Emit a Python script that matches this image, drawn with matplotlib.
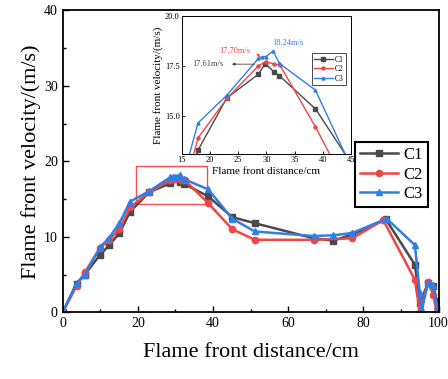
import matplotlib
matplotlib.use("Agg")
import matplotlib.pyplot as plt
from matplotlib.patches import Rectangle
from matplotlib.ticker import MultipleLocator

plt.rcParams['font.family'] = ['Liberation Serif', 'DejaVu Serif']
plt.rcParams['mathtext.fontset'] = 'stix'

# ---- data ----
c1_x = [0, 3.7, 5.9, 9.9, 12.4, 15.1, 17.9, 23.0, 28.6, 29.8, 31.3, 32.3, 38.7,
        45.1, 51.1, 66.8, 72.0, 77.0, 86.0, 93.7, 95.0, 97.2, 98.6, 99.5]
c1_y = [0, 3.8, 5.0, 7.6, 8.9, 10.5, 13.3, 15.9, 17.08, 17.61, 17.2, 17.0, 15.35,
        12.6, 11.8, 9.8, 9.5, 10.3, 12.3, 6.3, 1.2, 3.9, 3.5, 1.5]

c2_x = [0, 3.7, 5.9, 9.9, 12.4, 15.1, 17.9, 23.0, 28.6, 29.9, 31.4, 32.4, 38.7,
        45.1, 51.1, 66.8, 77.0, 85.3, 93.7, 95.0, 97.2, 98.6, 99.5]
c2_y = [0, 3.5, 5.3, 8.5, 9.6, 11.0, 13.9, 15.87, 17.5, 17.70, 17.58, 17.53, 14.45,
        11.0, 9.6, 9.6, 9.8, 12.2, 4.3, 0.0, 4.0, 2.3, 0.0]

c3_x = [0, 3.7, 5.9, 9.9, 12.4, 15.1, 17.9, 23.0, 28.6, 29.3, 29.9, 31.2, 32.3, 38.7,
        45.1, 51.1, 66.8, 72.0, 77.0, 86.2, 93.7, 95.0, 95.5, 97.2, 98.6, 99.5]
c3_y = [0, 3.9, 5.0, 8.6, 9.9, 11.8, 14.65, 16.03, 17.87, 17.95, 17.95, 18.24, 17.62, 16.28,
        12.4, 10.7, 10.1, 10.2, 10.5, 12.4, 8.9, 2.5, 0.3, 3.9, 3.6, 0.8]

series_names = ['C1', 'C2', 'C3']
colors = ['#4a4a4a', '#f04545', '#2f7fe6']
markers = ['s', 'o', '^']
series = [(c1_x, c1_y), (c2_x, c2_y), (c3_x, c3_y)]

peak_labels = ['17.61m/s', '17.70m/s', '18.24m/s']

# ---- figure ----
fig = plt.figure(figsize=(4.48, 3.79), dpi=100)
ax = fig.add_axes([0.140, 0.176, 0.839, 0.797])

for (xs, ys), name, c, m in zip(series, series_names, colors, markers):
    ax.plot(xs, ys, color=c, marker=m, markersize=4.5, linewidth=1.8, label=name)

ax.set_xlim(0, 100)
ax.set_ylim(0, 40)
ax.xaxis.set_major_locator(MultipleLocator(20))
ax.xaxis.set_minor_locator(MultipleLocator(10))
ax.yaxis.set_major_locator(MultipleLocator(10))
ax.yaxis.set_minor_locator(MultipleLocator(5))
ax.tick_params(which='both', direction='in', labelsize=10, width=1.0)
ax.tick_params(which='major', length=4)
ax.tick_params(which='minor', length=2.5)
for s in ax.spines.values():
    s.set_linewidth(1.3)
ax.set_xlabel('Flame front distance/cm', fontsize=16, labelpad=9)
ax.set_ylabel('Flame front velocity/(m/s)', fontsize=16, labelpad=2)

leg = ax.legend(loc='upper right', bbox_to_anchor=(0.971, 0.563), borderaxespad=0,
                fontsize=12, handlelength=2.3, handletextpad=0.3, borderpad=0.3,
                labelspacing=0.2, fancybox=False, framealpha=1)
leg.get_frame().set_edgecolor('black')
leg.get_frame().set_linewidth(1.5)

# zoom box
ax.add_patch(Rectangle((19.5, 14.3), 18.8, 5.1, fill=False, edgecolor='#f05050', linewidth=1.0))

# ---- inset ----
ins = fig.add_axes([0.4056, 0.5937, 0.378, 0.365])
for (xs, ys), name, c, m in zip(series, series_names, colors, markers):
    ins.plot(xs, ys, color=c, marker=m, markersize=2.2, linewidth=1.0, label=name)
ins.set_xlim(15, 45)
ins.set_ylim(13.1, 20)
ins.xaxis.set_major_locator(MultipleLocator(5))
ins.yaxis.set_major_locator(MultipleLocator(2.5))
ins.tick_params(direction='in', labelsize=6, length=2, width=0.6, pad=1.5)
ins.yaxis.set_major_formatter(matplotlib.ticker.FormatStrFormatter('%.1f'))
for s in ins.spines.values():
    s.set_linewidth(0.7)
ins.set_xlabel('Flame front distance/cm', fontsize=8, labelpad=2)
ins.set_ylabel('Flame front velocity/(m/s)', fontsize=8, labelpad=1)
ileg = ins.legend(loc='upper right', bbox_to_anchor=(0.97, 0.728), borderaxespad=0,
                  fontsize=5.5, handlelength=2.4, handletextpad=0.3, borderpad=0.3,
                  labelspacing=0.2, fancybox=False, framealpha=1)
ileg.get_frame().set_edgecolor('black')
ileg.get_frame().set_linewidth(0.5)

ins.annotate(peak_labels[0], xy=(23.2, 17.58), xytext=(16.8, 17.58), fontsize=6,
             color='#444444', va='center', ha='left')
ins.annotate('', xy=(23.4, 17.58), xytext=(28.4, 17.58),
             arrowprops=dict(arrowstyle='-|>', color='#444444', lw=0.6, mutation_scale=4))
ins.annotate(peak_labels[1], xy=(21.6, 18.25), fontsize=6, color='#f04545',
             va='center', ha='left')
ins.annotate('', xy=(27.9, 18.22), xytext=(29.4, 17.8),
             arrowprops=dict(arrowstyle='-|>', color='#f04545', lw=0.6, mutation_scale=4))
ins.annotate(peak_labels[2], xy=(31.0, 18.63), fontsize=6, color='#2f7fe6',
             va='center', ha='left')

fig.savefig('out.png', dpi=100)
